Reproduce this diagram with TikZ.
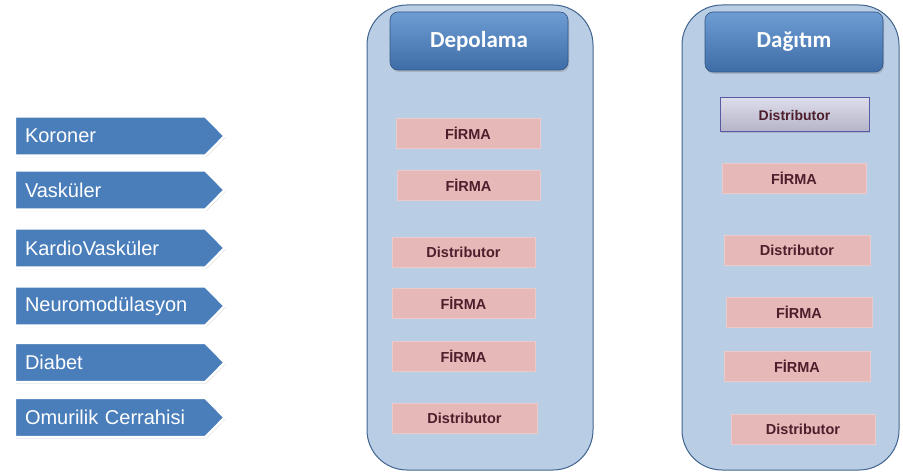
\documentclass[tikz,border=0pt]{standalone}
\usepackage{fontspec}
\setmainfont{Liberation Sans}
\newfontfamily\hdrfont{Carlito}
\usetikzlibrary{shadows,calc}
\pgfdeclarelayer{paper}
\pgfdeclarelayer{background}
\pgfsetlayers{paper,background,main}
\definecolor{contfill}{HTML}{B9CDE5}
\definecolor{contdraw}{HTML}{41658F}
\definecolor{hdrtop}{HTML}{6E9DD4}
\definecolor{hdrbot}{HTML}{3E6CA6}
\definecolor{arrfill}{HTML}{4A7EBB}
\definecolor{pinkfill}{HTML}{E6B9B8}
\definecolor{pinkdraw}{HTML}{EDCACA}
\definecolor{pinktext}{HTML}{4E1E2C}
\definecolor{greytop}{HTML}{DCDCEA}
\definecolor{greybot}{HTML}{B4B4C8}
\tikzset{
  container/.style={draw=contdraw, line width=1pt, fill=contfill, rounded corners=40pt, minimum width=#1, minimum height=465pt, inner sep=0pt},
  header/.style={top color=hdrtop, bottom color=hdrbot, draw=hdrbot!80!black, line width=0.6pt, rounded corners=8pt,
    minimum width=178pt, minimum height=#1, inner sep=0pt, text=white, font=\hdrfont\bfseries\fontsize{23}{26}\selectfont,
    drop shadow={opacity=0.35, shadow xshift=1pt, shadow yshift=-2pt}},
  cat/.style={rectangle, minimum width=190pt, minimum height=39pt, inner sep=0pt,
    text width=170pt, align=left, text=white, font=\fontsize{20}{23}\selectfont},
  catshape/.style={fill=arrfill, draw=white, line width=2.5pt, line join=miter,
    drop shadow={opacity=0.3, shadow xshift=1pt, shadow yshift=-1.5pt}},
  pinkbox/.style={fill=pinkfill, draw=pinkdraw, line width=0.8pt, minimum width=#1, minimum height=30pt, inner sep=0pt,
    text=pinktext, font=\bfseries\fontsize{14.5}{16}\selectfont},
  greybox/.style={top color=greytop, bottom color=greybot, draw=gray!70!blue, line width=1pt, minimum width=149pt, minimum height=34pt,
    inner sep=0pt, text=pinktext, font=\bfseries\fontsize{14}{16}\selectfont,
    drop shadow={opacity=0.3, shadow xshift=1pt, shadow yshift=-1.5pt}},
}
\begin{document}
\begin{tikzpicture}[x=1pt, y=-1pt]
\begin{pgfonlayer}{paper}
\fill[white] (0,0) rectangle (903,476);
\end{pgfonlayer}
\useasboundingbox (0,0) rectangle (903,476);
% category arrows
\node[cat] (koroner) at (110,136) {Koroner};
\node[cat] (vaskuler) at (110,190) {Vasküler};
\node[cat] (kardio) at (110,248) {KardioVasküler};
\node[cat] (neuro) at (110,306) {Neuromodülasyon};
\node[cat] (diabet) at (110,362.5) {Diabet};
\node[cat] (omurilik) at (110,417.5) {Omurilik Cerrahisi};
\begin{pgfonlayer}{background}
\foreach \n in {koroner,vaskuler,kardio,neuro,diabet,omurilik}{
  \path[catshape] (\n.north west) -- (\n.north east) -- ($(\n.east)+(19.5,0)$) -- (\n.south east) -- (\n.south west) -- cycle;
}
\end{pgfonlayer}
% containers
\node[container=226pt] (depocont) at (480,237.5) {};
\node[container=217pt] (dagcont) at (790.5,237.5) {};
\node[header=58pt] (depohdr) at (479,41) {Depolama};
\node[header=60pt] (daghdr) at (794,42) {Dağıtım};
% Depolama boxes
\node[pinkbox=144pt] (d1) at (468,133) {FİRMA};
\node[pinkbox=143pt] (d2) at (468.5,185) {FİRMA};
\node[pinkbox=143pt] (d3) at (463.5,252.5) {Distributor};
\node[pinkbox=143pt] (d4) at (463.5,303.5) {FİRMA};
\node[pinkbox=143pt] (d5) at (463.5,356) {FİRMA};
\node[pinkbox=145pt] (d6) at (464.5,418.5) {Distributor};
% Dagitim boxes
\node[greybox] (g1) at (794.5,115) {Distributor};
\node[pinkbox=144pt] (g2) at (794,178.5) {FİRMA};
\node[pinkbox=146pt] (g3) at (797,250.5) {Distributor};
\node[pinkbox=146pt] (g4) at (799,312.5) {FİRMA};
\node[pinkbox=146pt] (g5) at (797,366) {FİRMA};
\node[pinkbox=144pt] (g6) at (803,429) {Distributor};
\end{tikzpicture}
\end{document}
